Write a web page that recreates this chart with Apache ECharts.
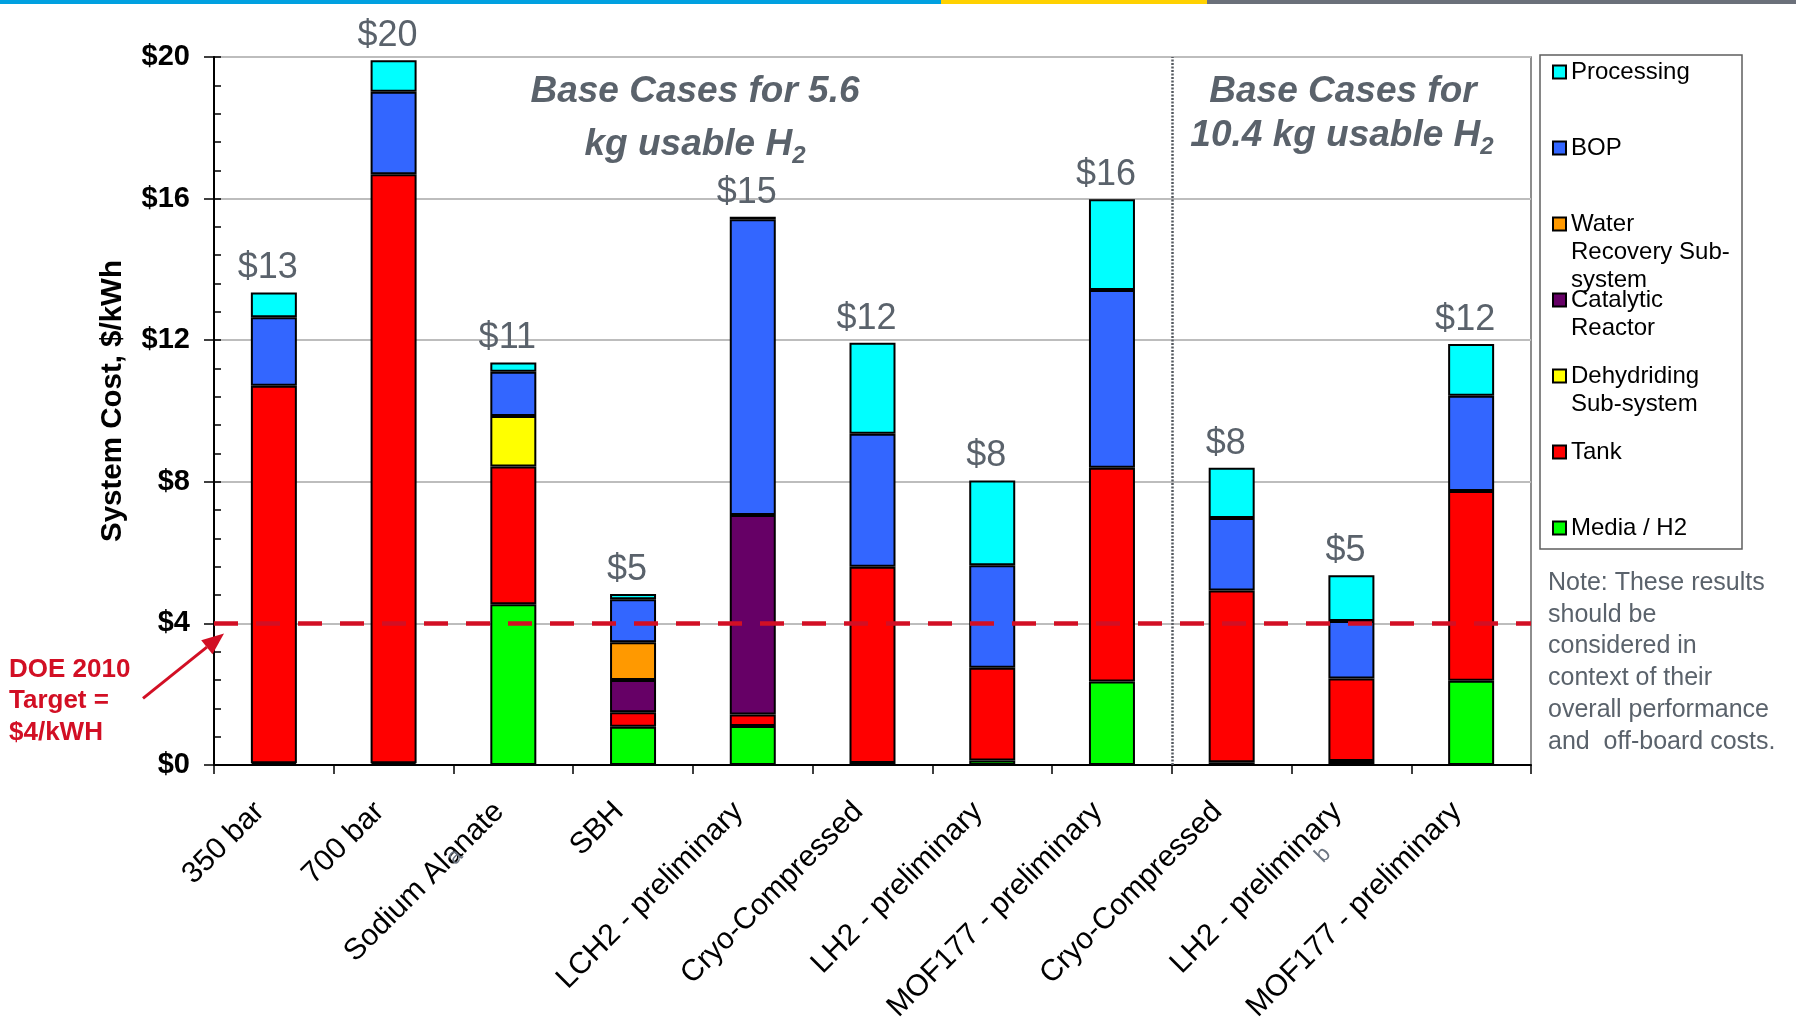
<!DOCTYPE html>
<html>
<head>
<meta charset="utf-8">
<script src="https://cdn.jsdelivr.net/npm/echarts@6/dist/echarts.min.js"></script>
<style>
  html, body { margin: 0; padding: 0; background: #fff; }
  #chart { width: 1796px; height: 1017px; }
</style>
</head>
<body>
<div id="chart"></div>
<script>
// Storage system cost breakdown, $/kWh
const categories = ['350 bar', '700 bar', 'Sodium Alanate', 'SBH', 'LCH2 - preliminary',
  'Cryo-Compressed', 'LH2 - preliminary', 'MOF177 - preliminary',
  'Cryo-Compressed', 'LH2 - preliminary', 'MOF177 - preliminary'];

// stacked components, bottom to top (null = component not present)
const mediaH2     = [0.05, 0.05, 4.54, 1.08, 1.10, 0.06, 0.13, 2.36, 0.08, 0.11, 2.38];
const tank        = [10.66, 16.64, 3.89, 0.41, 0.33, 5.54, 2.62, 6.04, 4.85, 2.33, 5.36];
const dehydriding = [null, null, 1.43, null, null, null, null, null, null, null, null];
const catalytic   = [null, null, null, 0.91, 5.63, null, null, null, null, null, null];
const waterRecov  = [null, null, null, 1.07, null, null, null, null, null, null, null];
const bop         = [1.94, 2.33, 1.25, 1.21, 8.36, 3.76, 2.89, 5.02, 2.05, 1.63, 2.69];
const processing  = [0.70, 0.89, 0.26, 0.15, 0.07, 2.57, 2.40, 2.56, 1.42, 1.29, 1.46];

const yTicks = [0, 4, 8, 12, 16, 20];
const doeTarget = 4;          // DOE 2010 target, $/kWh
const groupBoundary = 8;      // 5.6 kg cases | 10.4 kg cases

const FONT = '"Liberation Sans", Arial, Helvetica, sans-serif';
const GRAY_TEXT = '#5A626B';
const RED = '#D20F24';

const totals = categories.map((_, i) =>
  [mediaH2, tank, dehydriding, catalytic, waterRecov, bop, processing]
    .reduce((s, arr) => s + (arr[i] == null ? 0 : arr[i]), 0));

function stackSeries(name, data, color, extra) {
  return Object.assign({
    name: name,
    type: 'bar',
    stack: 'cost',
    data: data,
    barWidth: 46,
    itemStyle: { color: color, borderColor: '#000', borderWidth: 2 },
    emphasis: { disabled: true }
  }, extra || {});
}

// legend entries keep the marker beside the first line of text
const legendLines = {
  'Processing': ['Processing'],
  'BOP': ['BOP'],
  'Water Recovery Sub-system': ['Water', 'Recovery Sub-', 'system'],
  'Catalytic Reactor': ['Catalytic', 'Reactor'],
  'Dehydriding Sub-system': ['Dehydriding', 'Sub-system'],
  'Tank': ['Tank'],
  'Media / H2': ['Media / H2']
};
function legendText(name) {
  const lines = ['', ''].concat(legendLines[name]);
  while (lines.length < 5) lines.push('');
  return lines.join('\n');
}

const chart = echarts.init(document.getElementById('chart'));

const option = {
  animation: false,
  backgroundColor: '#fff',
  textStyle: { fontFamily: FONT },
  grid: {
    left: 214, right: 265, top: 57, bottom: 252,
    containLabel: false, outerBoundsMode: 'none',
    show: true, borderColor: '#6a6a6a', borderWidth: 1.5, backgroundColor: 'transparent'
  },
  legend: {
    orient: 'vertical',
    left: 1552, top: 2,
    padding: 0,
    itemWidth: 13, itemHeight: 13,
    itemGap: -64,
    icon: 'rect',
    selectedMode: false,
    itemStyle: { borderColor: '#000', borderWidth: 2 },
    textStyle: { fontFamily: FONT, fontSize: 24, lineHeight: 28, color: '#000' },
    formatter: legendText,
    data: ['Processing', 'BOP', 'Water Recovery Sub-system', 'Catalytic Reactor',
           'Dehydriding Sub-system', 'Tank', 'Media / H2']
  },
  xAxis: [{
    type: 'category',
    data: categories,
    position: 'bottom',
    boundaryGap: true,
    axisLine: { lineStyle: { color: '#000', width: 2 } },
    axisTick: { show: true, interval: 0, length: 9, lineStyle: { color: '#000', width: 1.5 } },
    axisLabel: {
      interval: 0, rotate: 45, margin: 28, padding: [0, 20, 0, 0],
      fontFamily: FONT, fontSize: 30, color: '#000'
    },
    splitLine: { show: false }
  }, {
    type: 'value', min: 0, max: categories.length, position: 'bottom', show: false
  }],
  yAxis: [{
    type: 'value',
    position: 'left',
    min: yTicks[0], max: yTicks[yTicks.length - 1], interval: yTicks[1] - yTicks[0],
    name: 'System Cost, $/kWh',
    nameLocation: 'middle',
    nameGap: 86,
    nameTextStyle: { fontFamily: FONT, fontSize: 29.5, fontWeight: 'bold', color: '#000', padding: [0, 0, 0, 20] },
    axisLine: { show: true, lineStyle: { color: '#000', width: 2 } },
    axisTick: { show: true, length: 10, lineStyle: { color: '#000', width: 1.5 } },
    axisLabel: {
      margin: 24, fontFamily: FONT, fontSize: 29, fontWeight: 'bold', color: '#000',
      formatter: v => '$' + v
    },
    splitLine: { show: true, lineStyle: { color: '#BDBDBD', width: 2 } }
  }, {
    type: 'value',
    position: 'left',
    min: 0, max: 20, interval: 0.8,
    axisLine: { show: false },
    axisTick: { show: true, inside: true, length: 7, lineStyle: { color: '#000', width: 1.5 } },
    axisLabel: { show: false },
    splitLine: { show: false }
  }],
  series: [
    stackSeries('Media / H2', mediaH2, '#00FF00'),
    stackSeries('Tank', tank, '#FF0000'),
    stackSeries('Dehydriding Sub-system', dehydriding, '#FFFF00'),
    stackSeries('Catalytic Reactor', catalytic, '#660066'),
    stackSeries('Water Recovery Sub-system', waterRecov, '#FF9900'),
    stackSeries('BOP', bop, '#3366FF'),
    stackSeries('Processing', processing, '#00FFFF', {
      label: {
        show: true, position: 'top', distance: 6, offset: [-6, 0],
        fontFamily: FONT, fontSize: 36, color: GRAY_TEXT,
        formatter: p => '$' + Math.round(totals[p.dataIndex])
      }
    }),
    {
      name: 'reference lines',
      type: 'line',
      xAxisIndex: 1, yAxisIndex: 0,
      data: [],
      silent: true,
      markLine: {
        silent: true,
        symbol: ['none', 'none'],
        label: { show: false },
        emphasis: { disabled: true },
        data: [
          { yAxis: doeTarget, lineStyle: { color: RED, width: 4.5, type: [24, 18], opacity: 1 } },
          { xAxis: groupBoundary, lineStyle: { color: '#555a60', width: 2.5, type: [2, 1.5], opacity: 1 } }
        ]
      }
    }
  ]
};

chart.setOption(option);

// annotations: arrow to the target line is anchored to the axis scale
const tipY = chart.convertToPixel({ yAxisIndex: 0 }, doeTarget) + 10;
const tipX = chart.convertToPixel({ xAxisIndex: 1 }, 0) + 10;
const dx = -81, dy = 65;
const len = Math.sqrt(dx * dx + dy * dy);
const ux = dx / len, uy = dy / len;        // from tip towards tail
const headLen = 22, headHalf = 9;
const baseX = tipX + ux * headLen, baseY = tipY + uy * headLen;

const headingRich = {
  m: { fontFamily: FONT, fontSize: 37, fontWeight: 'bold', fontStyle: 'italic', fill: GRAY_TEXT, lineHeight: 46 },
  s: { fontFamily: FONT, fontSize: 24, fontWeight: 'bold', fontStyle: 'italic', fill: GRAY_TEXT, lineHeight: 22, verticalAlign: 'bottom' }
};

const graphics = [
  // coloured stripe along the top edge
  { type: 'rect', shape: { x: 0, y: 0, width: 941, height: 4 }, style: { fill: '#00A0E0' }, silent: true },
  { type: 'rect', shape: { x: 941, y: 0, width: 266, height: 4 }, style: { fill: '#FFD100' }, silent: true },
  { type: 'rect', shape: { x: 1207, y: 0, width: 589, height: 4 }, style: { fill: '#6B707A' }, silent: true },

  // legend frame
  { type: 'rect', shape: { x: 1540, y: 55, width: 202, height: 494 },
    style: { fill: 'none', stroke: '#5f5f5f', lineWidth: 1.5 }, z: 1, silent: true },

  // group headings
  { type: 'text', x: 695, y: 92, z: 20, style: {
      text: 'Base Cases for 5.6', align: 'center', verticalAlign: 'middle',
      fontFamily: FONT, fontSize: 37, fontWeight: 'bold', fontStyle: 'italic', fill: GRAY_TEXT } },
  { type: 'text', x: 695, y: 145, z: 20, style: {
      text: '{m|kg usable H}{s|2}', align: 'center', verticalAlign: 'middle', rich: headingRich } },
  { type: 'text', x: 1343, y: 92, z: 20, style: {
      text: 'Base Cases for', align: 'center', verticalAlign: 'middle',
      fontFamily: FONT, fontSize: 37, fontWeight: 'bold', fontStyle: 'italic', fill: GRAY_TEXT } },
  { type: 'text', x: 1342, y: 136, z: 20, style: {
      text: '{m|10.4 kg usable H}{s|2}', align: 'center', verticalAlign: 'middle', rich: headingRich } },

  // DOE target callout
  { type: 'text', x: 9, y: 654, z: 20, style: {
      text: 'DOE 2010\nTarget =\n$4/kWH', align: 'left', verticalAlign: 'top',
      fontFamily: FONT, fontSize: 26, fontWeight: 'bold', lineHeight: 31.5, fill: RED } },
  { type: 'line', z: 20, silent: true,
    shape: { x1: tipX + dx, y1: tipY + dy, x2: baseX, y2: baseY },
    style: { stroke: RED, lineWidth: 3 } },
  { type: 'polygon', z: 20, silent: true,
    shape: { points: [
      [tipX, tipY],
      [baseX - uy * headHalf, baseY + ux * headHalf],
      [baseX + uy * headHalf, baseY - ux * headHalf]
    ] },
    style: { fill: RED } },

  // footnote marks on category labels
  { type: 'text', x: 455, y: 857, rotation: Math.PI / 4, z: 20, style: {
      text: 'a', align: 'center', verticalAlign: 'middle', fontFamily: FONT, fontSize: 22, fill: '#6B7480' } },
  { type: 'text', x: 1323, y: 855, rotation: Math.PI / 4, z: 20, style: {
      text: 'b', align: 'center', verticalAlign: 'middle', fontFamily: FONT, fontSize: 22, fill: '#6B7480' } },

  // side note
  { type: 'text', x: 1548, y: 567, z: 20, style: {
      text: 'Note: These results\nshould be\nconsidered in\ncontext of their\noverall performance\nand  off-board costs.',
      align: 'left', verticalAlign: 'top', fontFamily: FONT, fontSize: 25, lineHeight: 31.8, fill: GRAY_TEXT } }
];

chart.setOption({ graphic: graphics });
</script>
</body>
</html>
